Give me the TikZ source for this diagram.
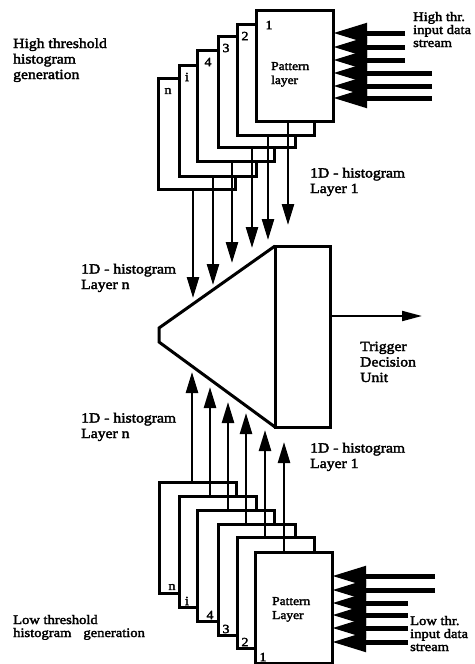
\documentclass[tikz,border=0pt]{standalone}
\usepackage{fontspec}
\setmainfont[FakeStretch=1.12,FakeBold=2.5]{Liberation Serif}
\usetikzlibrary{arrows.meta,calc}
\begin{document}
\begin{tikzpicture}[x=1pt,y=-1pt,
  layerbox/.style={draw, line width=3pt, fill=white, minimum width=77pt, minimum height=111pt, anchor=north west, inner sep=0pt, outer sep=0pt},
  numlbl/.style={font=\fontsize{12.5}{12}\selectfont, inner sep=0pt},
  lbl/.style={font=\fontsize{14}{15.5}\selectfont, align=left, anchor=base west, inner sep=0pt},
  tightlbl/.style={font=\fontsize{13}{13}\selectfont, align=left, anchor=base west, inner sep=0pt},
  plbl/.style={font=\fontsize{12}{14}\selectfont, align=left, anchor=base west, inner sep=0pt},
  histarrow/.style={line width=2.5pt, -{Triangle[length=21pt,width=12pt]}},
  inarrow/.style={line width=5pt, -{Triangle[length=34pt,width=19pt]}},
  outarrow/.style={line width=2pt, -{Triangle[length=20pt,width=10pt]}},
  unitbox/.style={draw, line width=3pt, minimum width=55pt, minimum height=181pt, anchor=north west, inner sep=0pt, outer sep=0pt}
]
\useasboundingbox (0,0) rectangle (474,664);

% ---------- top stack (high threshold) ----------
\node[layerbox] (tn) at (158,78) {};
\node[numlbl] (tnl) at (168,91) {n};
\node[layerbox] (ti) at (179,65) {};
\node[numlbl] (til) at (187,77) {i};
\node[layerbox] (t4) at (197,50) {};
\node[numlbl] (t4l) at (208,62) {4};
\node[layerbox] (t3) at (218,36) {};
\node[numlbl] (t3l) at (226,48) {3};
\node[layerbox] (t2) at (237,24) {};
\node[numlbl] (t2l) at (245,36) {2};
\node[layerbox] (t1) at (256,10) {};
\node[numlbl] (t1l) at (269,25) {1};
\node[plbl] (tpat) at (271,84) {Pattern\\layer};

% ---------- bottom stack (low threshold) ----------
\node[layerbox] (bn) at (159,482) {};
\node[numlbl] (bnl) at (172,587) {n};
\node[layerbox] (bi) at (179,496) {};
\node[numlbl] (bil) at (187,601) {i};
\node[layerbox] (b4) at (197,510) {};
\node[numlbl] (b4l) at (210,615) {4};
\node[layerbox] (b3) at (218,524) {};
\node[numlbl] (b3l) at (226,629) {3};
\node[layerbox] (b2) at (237,537) {};
\node[numlbl] (b2l) at (245,642) {2};
\node[layerbox] (b1) at (255,552) {};
\node[numlbl] (b1l) at (263,657) {1};
\node[plbl] (bpat) at (272,619) {Pattern\\Layer};

% ---------- trigger decision unit ----------
\node[unitbox] (du) at (275,246) {};
\coordinate (fa) at (159,328);
\coordinate (fb) at (159,342);
\draw[line width=3pt, line join=miter] (du.north west) -- (fa) -- (fb) -- (du.south west);

% ---------- histogram arrows, top ----------
\coordinate (hn) at (193,298);
\coordinate (hi) at (213,285);
\coordinate (h4) at (232,263);
\coordinate (h3) at (252,248);
\coordinate (h2) at (268,240);
\coordinate (h1) at (288,225);
\draw[histarrow] (hn |- tn.south) -- (hn);
\draw[histarrow] (hi |- ti.south) -- (hi);
\draw[histarrow] (h4 |- t4.south) -- (h4);
\draw[histarrow] (h3 |- t3.south) -- (h3);
\draw[histarrow] (h2 |- t2.south) -- (h2);
\draw[histarrow] (h1 |- t1.south) -- (h1);

% ---------- histogram arrows, bottom ----------
\coordinate (ln) at (192,372);
\coordinate (li) at (210,387);
\coordinate (l4) at (228,402);
\coordinate (l3) at (246,413);
\coordinate (l2) at (265,430);
\coordinate (l1) at (284,442);
\draw[histarrow] (ln |- bn.north) -- (ln);
\draw[histarrow] (li |- bi.north) -- (li);
\draw[histarrow] (l4 |- b4.north) -- (l4);
\draw[histarrow] (l3 |- b3.north) -- (l3);
\draw[histarrow] (l2 |- b2.north) -- (l2);
\draw[histarrow] (l1 |- b1.north) -- (l1);

% ---------- output ----------
\coordinate (out) at (422,316);
\draw[outarrow] (du.east |- out) -- (out);

% ---------- input data streams ----------
\coordinate (hs1) at (405,33);
\coordinate (hs2) at (405,47);
\coordinate (hs3) at (405,60);
\coordinate (hs4) at (432,73);
\coordinate (hs5) at (432,86);
\coordinate (hs6) at (432,98);
\foreach \s in {hs1,hs2,hs3,hs4,hs5,hs6}
  \draw[inarrow] (\s) -- (\s -| t1.east);
\coordinate (ls1) at (435,576);
\coordinate (ls2) at (435,590);
\coordinate (ls3) at (408,603);
\coordinate (ls4) at (408,615);
\coordinate (ls5) at (408,628);
\coordinate (ls6) at (408,642);
\foreach \s in {ls1,ls2,ls3,ls4,ls5,ls6}
  \draw[inarrow] (\s) -- (\s -| b1.east);

% ---------- texts (anchor = baseline of last line) ----------
\node[lbl] (hth) at (13,79) {High threshold\\histogram\\generation};
\node[tightlbl] (hin) at (413,47) {High thr.\\input data\\stream};
\node[lbl] (h1t) at (310,193) {1D - histogram\\Layer 1};
\node[lbl] (hnt) at (81,289) {1D - histogram\\Layer n};
\node[lbl] (tdu) at (360,382) {Trigger\\Decision\\Unit};
\node[lbl] (hnb) at (81,438) {1D - histogram\\Layer n};
\node[lbl] (h1b) at (310,468) {1D - histogram\\Layer 1};
\node[tightlbl] (lin) at (410,651) {Low thr.\\input data\\stream};
\node[tightlbl] (lth) at (13,637) {Low threshold\\histogram\hspace{12pt}generation};
\end{tikzpicture}
\end{document}
